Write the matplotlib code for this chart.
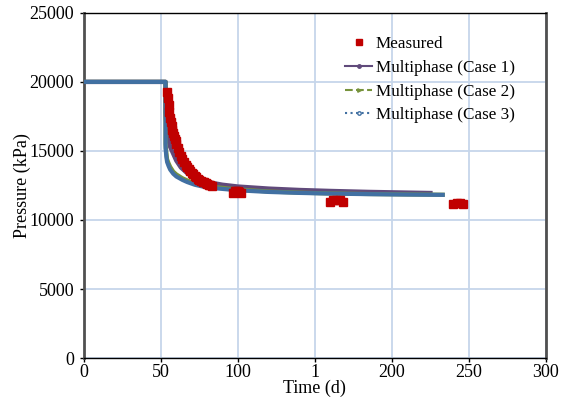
import matplotlib
matplotlib.use("Agg")
import matplotlib.pyplot as plt
from matplotlib.lines import Line2D

plt.rcParams['font.family'] = ['Liberation Serif', 'DejaVu Serif']

# Measured data (time in days, pressure in kPa)
meas_t = [54, 54.5, 55, 55.5, 56, 56.5, 57, 57.5, 58, 58.5, 59, 59.5, 60, 61, 62, 63, 64, 65, 66,
          67, 68, 69, 70, 71, 72, 73, 74, 75, 76, 77, 78, 79, 80, 81, 82, 83,
          97, 98, 99, 100, 101, 102,
          160, 162, 164, 166, 168,
          240, 242, 244, 246]
meas_p = [19300, 18800, 18300, 17800, 17400, 17100, 16800, 16550, 16300, 16100, 15900, 15700,
          15500, 15200, 14900, 14650, 14400, 14200, 14000, 13850, 13700, 13550, 13400, 13300,
          13200, 13100, 13000, 12920, 12850, 12780, 12720, 12660, 12610, 12560, 12520, 12480,
          11980, 12080, 12120, 12100, 12050, 11950,
          11330, 11430, 11450, 11430, 11330,
          11150, 11200, 11200, 11150]

# Simulated cases
case1_t = [0, 53, 53, 53.5, 54, 55, 56, 58, 60, 63, 67, 72, 80, 90, 100, 120, 140, 160, 185, 210, 225]
case1_p = [20000, 20000, 17800, 17000, 16500, 15800, 15300, 14800, 14300, 13800, 13400, 13050,
           12750, 12550, 12420, 12270, 12170, 12100, 12030, 11980, 11950]

case2_t = [0, 53, 53, 53.5, 54, 55, 56, 58, 60, 64, 67, 72, 80, 93, 100, 120, 140, 160, 185, 210, 233]
case2_p = [20000, 20000, 15500, 14900, 14400, 14100, 13850, 13500, 13300, 13020, 12870, 12660,
           12450, 12290, 12210, 12060, 11980, 11920, 11880, 11850, 11830]

case3_t = [0, 53, 53, 53.5, 54, 55, 56, 58, 60, 64, 67, 72, 80, 93, 100, 120, 140, 160, 185, 210, 233]
case3_p = [20000, 20000, 15200, 14600, 14200, 13900, 13650, 13350, 13150, 12900, 12750, 12550,
           12350, 12220, 12150, 12030, 11960, 11910, 11870, 11840, 11820]

x_ticks = [0, 50, 100, 150, 200, 250, 300]
x_tick_labels = ['0', '50', '100', '1', '200', '250', '300']
y_ticks = [0, 5000, 10000, 15000, 20000, 25000]

c_meas = '#c00000'
c1 = '#604a7b'
c2 = '#77933c'
c3 = '#4170a2'

fig = plt.figure(figsize=(5.71, 4.01), dpi=100)
ax = fig.add_axes([0.147, 0.107, 0.809, 0.861])

ax.plot(case1_t, case1_p, color=c1, lw=3.2, zorder=3)
ax.plot(case2_t, case2_p, color=c2, lw=3.0, zorder=3)
ax.plot(case3_t, case3_p, color=c3, lw=3.0, zorder=4)
ax.plot(meas_t, meas_p, linestyle='none', marker='s', ms=5.5, color=c_meas, mec=c_meas, zorder=5)

ax.set_xlim(0, 300)
ax.set_ylim(0, 25000)
ax.set_xticks(x_ticks)
ax.set_xticklabels(x_tick_labels)
ax.set_yticks(y_ticks)
ax.grid(True, color='#c6d6ea', lw=1.3)
ax.set_axisbelow(True)
ax.tick_params(axis='both', labelsize=13, length=3, width=1, direction='out', colors='black')
ax.tick_params(axis='y', pad=4)
ax.tick_params(axis='x', pad=1)

for s in ['left', 'right']:
    ax.spines[s].set_color('#505050')
    ax.spines[s].set_linewidth(2)
for s in ['top', 'bottom']:
    ax.spines[s].set_color('black')
    ax.spines[s].set_linewidth(1)

ax.set_xlabel('Time (d)', fontsize=13, labelpad=-1)
ax.set_ylabel('Pressure (kPa)', fontsize=13, labelpad=-1)

handles = [
    Line2D([], [], linestyle='none', marker='s', ms=5, color=c_meas),
    Line2D([], [], color=c1, lw=1.5, marker='o', ms=2.5),
    Line2D([], [], color=c2, lw=1.5, ls='--', marker='>', ms=2.5),
    Line2D([], [], color=c3, lw=1.5, ls=':', marker='o', ms=2.5, mfc='white'),
]
labels = ['Measured', 'Multiphase (Case 1)', 'Multiphase (Case 2)', 'Multiphase (Case 3)']
ax.legend(handles, labels, loc='upper left', bbox_to_anchor=(0.55, 0.952), frameon=False,
          fontsize=12.3, handlelength=1.6, handletextpad=0.2, labelspacing=0.45,
          borderaxespad=0)

fig.savefig('out.png', dpi=100)
